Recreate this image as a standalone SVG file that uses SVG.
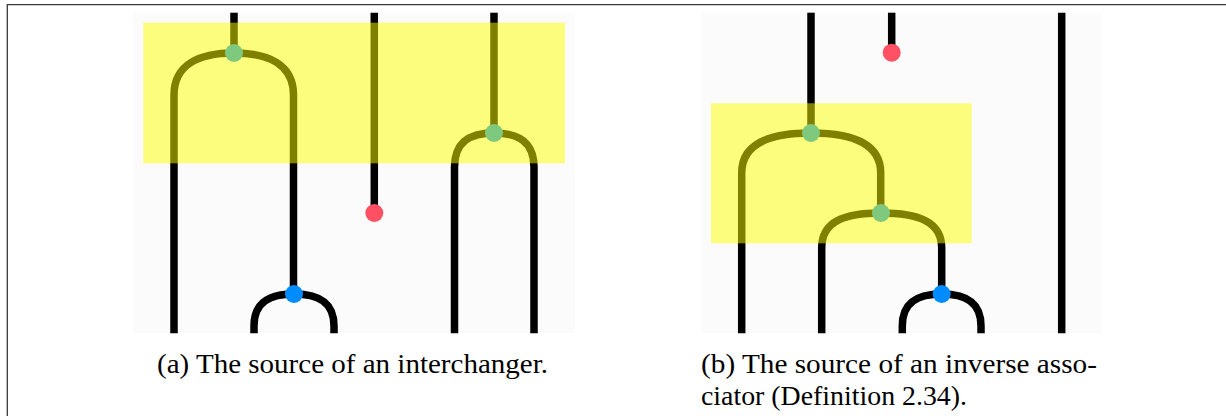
<svg xmlns="http://www.w3.org/2000/svg" width="1226" height="416" viewBox="0 0 1226 416">
<style>
.panel{fill:#fbfbfb}
.wire{fill:none;stroke:#000;stroke-width:7.5;stroke-linecap:butt}
.hl{fill:#ffff00;opacity:0.5}
.green{fill:#7fc97f}
.red{fill:#ff5064}
.blue{fill:#008cff}
.frame{fill:none;stroke:#3a3a3a;stroke-width:1.3}
</style>
<rect width="1226" height="416" fill="#fff"/>
<path class="frame" d="M7.3,416 V4.7 H1226"/>
<g id="panel-a">
<rect class="panel" x="133.5" y="12.7" width="441.5" height="320.6"/>
</g>
<g id="panel-b">
<rect class="panel" x="701.7" y="12.7" width="400" height="320.6"/>
</g>
<g id="connectors">
<path class="wire" d="M234,12.7 V53"/>
<path class="wire" d="M174,333.3 V95 C174,64 200,53 234,53 C268,53 293.5,64 293.5,95 V294"/>
<path class="wire" d="M254,333.3 V326 C254,302 270,294 294,294 C318,294 334,302 334,326 V333.3"/>
<path class="wire" d="M374.3,12.7 V213"/>
<path class="wire" d="M494,12.7 V133"/>
<path class="wire" d="M454.5,333.3 V167 C454.5,142 470,133 494,133 C518,133 534,142 534,167 V333.3"/>
<path class="wire" d="M811,12.7 V133"/>
<path class="wire" d="M741.7,333.3 V173 C741.7,143 771,133 811,133 C851,133 880.7,143 880.7,173 V213"/>
<path class="wire" d="M821.7,333.3 V248 C821.7,221 845,213 881,213 C917,213 941.7,221 941.7,248 V294"/>
<path class="wire" d="M902.3,333.3 V326 C902.3,302 918,294 941.7,294 C965,294 981,302 981,326 V333.3"/>
<path class="wire" d="M891.7,12.7 V52.7"/>
<path class="wire" d="M1061.7,12.7 V333.3"/>
</g>
<g id="highlights">
<rect id="hl-a" class="hl" x="143.3" y="22.7" width="421.7" height="140.6"/>
<rect id="hl-b" class="hl" x="711" y="103.3" width="260.7" height="140"/>
</g>
<g id="node-a-green1"><circle class="green" cx="234" cy="53" r="9"/></g>
<g id="node-a-green2"><circle class="green" cx="494" cy="133" r="9"/></g>
<g id="node-a-red"><circle class="red" cx="374.3" cy="213" r="9"/></g>
<g id="node-a-blue"><circle class="blue" cx="294" cy="294" r="9"/></g>
<g id="node-b-green1"><circle class="green" cx="811" cy="133" r="9"/></g>
<g id="node-b-green2"><circle class="green" cx="881" cy="213" r="9"/></g>
<g id="node-b-red"><circle class="red" cx="891.7" cy="52.7" r="9"/></g>
<g id="node-b-blue"><circle class="blue" cx="941.7" cy="294" r="9"/></g>
<g id="captions" font-family="'Liberation Serif', 'DejaVu Serif', serif" font-size="28" fill="#000">
<text x="157" y="372.7" textLength="391" lengthAdjust="spacingAndGlyphs">(a) The source of an interchanger.</text>
<text x="701" y="372.7" textLength="396" lengthAdjust="spacingAndGlyphs">(b) The source of an inverse asso-</text>
<text x="701" y="405" textLength="266" lengthAdjust="spacingAndGlyphs">ciator (Definition 2.34).</text>
</g>
</svg>
